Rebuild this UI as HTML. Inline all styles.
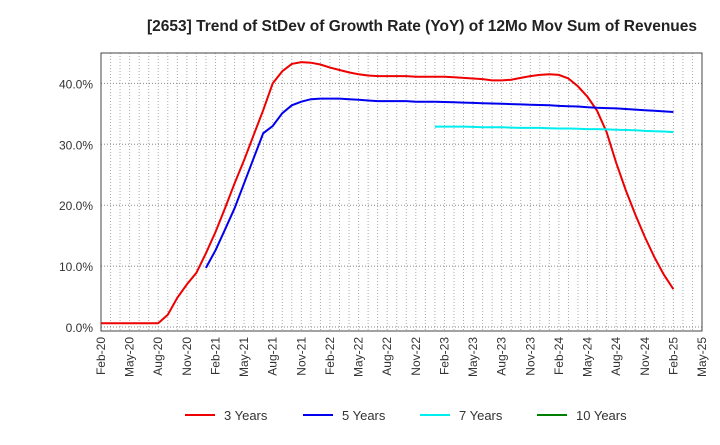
<!DOCTYPE html>
<html><head><meta charset="utf-8"><style>
body{margin:0;background:#fff;font-family:"Liberation Sans",Arial,sans-serif;}
svg text{font-family:"Liberation Sans",Arial,sans-serif;}
</style></head><body>
<svg id="chart" width="720" height="440">
<text x="422" y="31" text-anchor="middle" font-size="15.5" font-weight="bold" fill="#222">[2653]  Trend of StDev of Growth Rate (YoY) of 12Mo Mov Sum of Revenues</text>
<g id="grid"></g><g id="axes"></g><g id="series"></g><g id="legend"></g>
</svg>
<script>
const xLabels=["Feb-20","May-20","Aug-20","Nov-20","Feb-21","May-21","Aug-21","Nov-21","Feb-22","May-22","Aug-22","Nov-22","Feb-23","May-23","Aug-23","Nov-23","Feb-24","May-24","Aug-24","Nov-24","Feb-25","May-25"];
const yTicks=[0,10,20,30,40];
const s3Start=0;
const s3=[0.6,0.6,0.6,0.6,0.6,0.6,0.6,2,4.8,7,8.9,12.1,15.6,19.5,23.6,27.4,31.5,35.6,40,42,43.2,43.5,43.4,43.1,42.6,42.2,41.8,41.5,41.3,41.2,41.2,41.2,41.2,41.1,41.1,41.1,41.1,41.0,40.9,40.8,40.7,40.5,40.5,40.6,40.9,41.2,41.4,41.5,41.4,40.8,39.5,37.8,35.5,32,27,22.5,18.5,14.8,11.5,8.6,6.2];
const s5Start=11;
const s5=[9.7,12.6,16,19.5,23.6,27.7,31.8,33,35.1,36.4,37,37.4,37.5,37.5,37.5,37.4,37.3,37.2,37.1,37.1,37.1,37.1,37.0,37.0,37.0,36.95,36.9,36.85,36.8,36.75,36.7,36.65,36.6,36.55,36.5,36.45,36.4,36.3,36.25,36.2,36.1,36.0,35.95,35.9,35.8,35.7,35.6,35.5,35.4,35.3];
const s7Start=35;
const s7=[32.9,32.9,32.9,32.9,32.85,32.8,32.8,32.8,32.75,32.7,32.7,32.7,32.65,32.6,32.6,32.55,32.5,32.5,32.45,32.4,32.35,32.3,32.2,32.15,32.1,32.0];
const s10=[];
const X0=101,X1=702,Y0=327,YS=6.09,TOP=53,BOT=331;
const nMonths=63;
const xm=m=>X0+(X1-X0)*m/nMonths;
const yv=v=>Y0-v*YS;
const NS="http://www.w3.org/2000/svg";
function mk(t,a,p){const e=document.createElementNS(NS,t);for(const k in a)e.setAttribute(k,a[k]);p.appendChild(e);return e;}
const grid=document.getElementById('grid'),axes=document.getElementById('axes'),ser=document.getElementById('series'),leg=document.getElementById('legend');
for(let m=1;m<nMonths;m++){const l=mk('line',{x1:xm(m),x2:xm(m),y1:TOP,y2:BOT,stroke:'#aaa','stroke-dasharray':'1,2','stroke-width':1},grid);

}
yTicks.forEach(v=>{const l=mk('line',{x1:X0,x2:X1,y1:yv(v),y2:yv(v),stroke:'#888','stroke-dasharray':'1,2','stroke-width':1},grid);


const t=mk('text',{x:X0-8,y:yv(v)+5,'text-anchor':'end','font-size':12,fill:'#333'},axes);t.textContent=v.toFixed(1)+'%';

});
const fr=mk('rect',{x:X0,y:TOP,width:X1-X0,height:BOT-TOP,fill:'none',stroke:'#444','stroke-width':1},axes);


xLabels.forEach((s,i)=>{const x=xm(i*3);const t=mk('text',{x:0,y:0,'text-anchor':'end','font-size':12,fill:'#333',transform:`translate(${x+4},${BOT+6}) rotate(-90)`},axes);t.textContent=s;

});
function line(data,start,color,name){if(!data.length)return;const d=data.map((v,i)=>(i?'L':'M')+xm(start+i).toFixed(1)+','+yv(v).toFixed(1)).join(' ');
const p=mk('path',{d:d,fill:'none',stroke:color,'stroke-width':2},ser);

}
line(s3,s3Start,'#ee0000','series-3-years');
line(s5,s5Start,'#0000ee','series-5-years');
line(s7,s7Start,'#00eeee','series-7-years');
line(s10,0,'#008000','series-10-years');
[["3 Years","#ee0000",185],["5 Years","#0000ee",303],["7 Years","#00eeee",420],["10 Years","#008000",537]].forEach(([n,c,x])=>{
const g=mk('g',{},leg);


mk('line',{x1:x,x2:x+30,y1:415,y2:415,stroke:c,'stroke-width':2},g);
const t=mk('text',{x:x+39,y:420,'font-size':13,fill:'#333'},g);t.textContent=n;});
</script>
</body></html>
